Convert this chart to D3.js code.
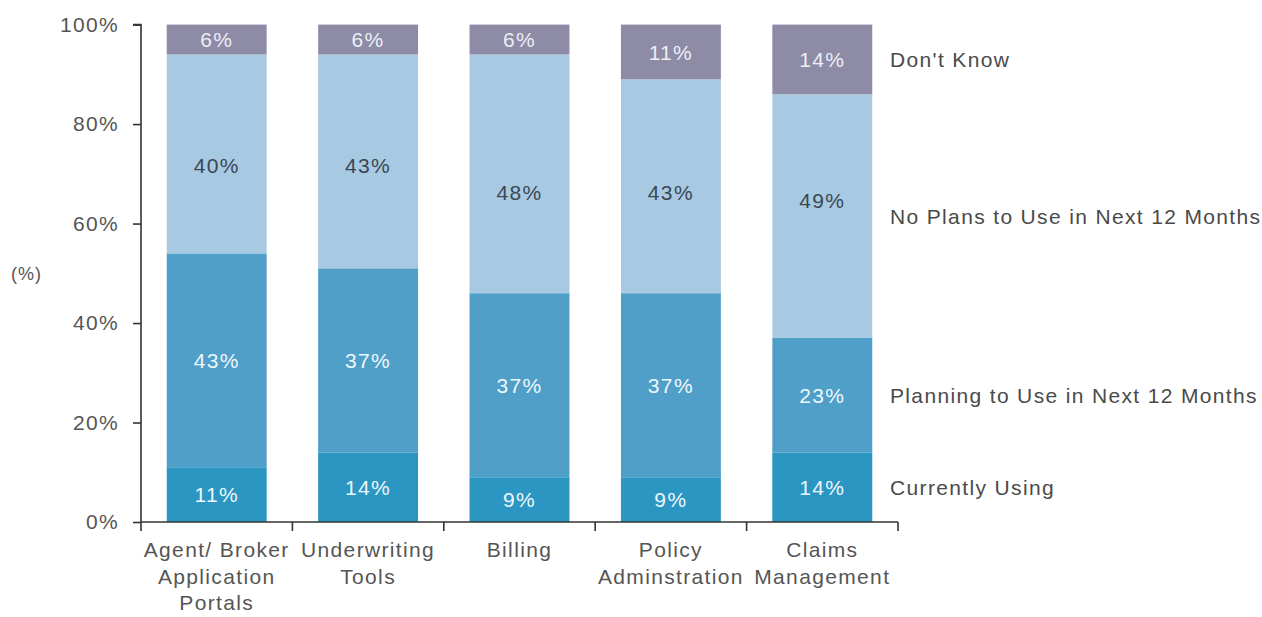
<!DOCTYPE html>
<html>
<head>
<meta charset="utf-8">
<script src="https://cdn.jsdelivr.net/npm/d3@7"></script>
<style>
  html, body { margin: 0; padding: 0; background: #ffffff; }
  svg text { font-family: "Liberation Sans", Arial, sans-serif; }
</style>
</head>
<body>
<svg id="chart" width="1262" height="617"></svg>
<script>
const categories = [
  ["Agent/ Broker", "Application", "Portals"],
  ["Underwriting", "Tools"],
  ["Billing"],
  ["Policy", "Adminstration"],
  ["Claims", "Management"]
];
const seriesNames = ["Currently Using", "Planning to Use in Next 12 Months", "No Plans to Use in Next 12 Months", "Don't Know"];
const currentlyUsing = [11, 14, 9, 9, 14];
const planningToUse = [43, 37, 37, 37, 23];
const noPlans = [40, 43, 48, 43, 49];
const dontKnow = [6, 6, 6, 11, 14];
// where the "No Plans" value labels sit, in % units on the value axis (as placed in the original)
const noPlansLabelAt = [71.6, 71.6, 66.3, 66.3, 64.7];
const yTicks = [0, 20, 40, 60, 80, 100];
const yTickLabels = ["0%", "20%", "40%", "60%", "80%", "100%"];
const yAxisTitle = "(%)";

const colors = ["#2b96c2", "#4f9fc9", "#a7c9e1", "#8d8ba6"];
const labelColors = ["#eef7fb", "#eef7fb", "#3c4756", "#eeeef4"];

const seriesValues = [currentlyUsing, planningToUse, noPlans, dontKnow];
const rows = categories.map((c, i) => {
  const r = { key: i };
  seriesNames.forEach((s, j) => r[s] = seriesValues[j][i]);
  return r;
});
const stacked = d3.stack().keys(seriesNames)(rows);

const svg = d3.select("#chart");
const x0 = 141, x1 = 898, yBottom = 522, yTop = 24.6;
const x = d3.scaleBand().domain(d3.range(categories.length)).range([x0, x1]).paddingInner(0.34).paddingOuter(0.17);
const y = d3.scaleLinear().domain([0, 100]).range([yBottom, yTop]);
const fontSize = 21, ls = "1.35px";

// bars
const layer = svg.append("g").selectAll("g").data(stacked).join("g")
  .attr("fill", (d, i) => colors[i]);
layer.selectAll("rect").data(d => d).join("rect")
  .attr("x", (d, i) => x(i))
  .attr("width", x.bandwidth())
  .attr("y", d => y(d[1]))
  .attr("height", d => y(d[0]) - y(d[1]));

// value labels
stacked.forEach((s, si) => {
  svg.append("g").selectAll("text").data(s).join("text")
    .attr("x", (d, i) => x(i) + x.bandwidth() / 2)
    .attr("y", (d, i) => si === 2 ? y(noPlansLabelAt[i]) : y((d[0] + d[1]) / 2))
    .attr("dy", "0.36em")
    .attr("text-anchor", "middle")
    .attr("font-size", fontSize)
    .attr("letter-spacing", ls)
    .attr("fill", labelColors[si])
    .text(d => (d[1] - d[0]) + "%");
});

// y axis
const yAxis = d3.axisLeft(y).tickValues(yTicks).tickFormat((d, i) => yTickLabels[i]).tickSize(8).tickPadding(14);
const gy = svg.append("g").attr("transform", `translate(${x0},0)`).call(yAxis);
gy.select(".domain").attr("stroke", "#333").attr("stroke-width", 1.6).attr("d", `M-8,${y(100)}H0V${y(0)}`);
gy.selectAll(".tick line").attr("stroke", "#333").attr("stroke-width", 1.6);
gy.selectAll(".tick text").attr("font-size", fontSize).attr("letter-spacing", ls).attr("fill", "#555").attr("font-family", "Liberation Sans, Arial, sans-serif");

// x axis line & boundary ticks
const step = x.step();
const gx = svg.append("g");
gx.append("line").attr("x1", x0).attr("x2", x1).attr("y1", y(0)).attr("y2", y(0)).attr("stroke", "#333").attr("stroke-width", 1.6);
gx.selectAll("line.tk").data(d3.range(categories.length + 1)).join("line")
  .attr("class", "tk")
  .attr("x1", i => x0 + i * step).attr("x2", i => x0 + i * step)
  .attr("y1", y(0)).attr("y2", y(0) + 9)
  .attr("stroke", "#333").attr("stroke-width", 1.6);

// category labels
const catG = svg.append("g").selectAll("text").data(categories).join("text")
  .attr("text-anchor", "middle")
  .attr("font-size", fontSize)
  .attr("letter-spacing", ls)
  .attr("fill", "#555");
catG.each(function(lines, i) {
  d3.select(this).selectAll("tspan").data(lines).join("tspan")
    .attr("x", x(i) + x.bandwidth() / 2)
    .attr("y", (d, k) => 557 + k * 26.5)
    .text(d => d);
});

// y axis title
svg.append("text").attr("x", 11).attr("y", y(50)).attr("dy", "0.36em")
  .attr("font-size", 18).attr("fill", "#555").attr("letter-spacing", "1px").text(yAxisTitle);

// series labels at the right, aligned with the last bar's segments
const last = categories.length - 1;
svg.append("g").selectAll("text").data(stacked).join("text")
  .attr("x", 890)
  .attr("y", s => y((s[last][0] + s[last][1]) / 2))
  .attr("dy", "0.36em")
  .attr("font-size", fontSize)
  .attr("letter-spacing", ls)
  .attr("fill", "#4a4a4a")
  .text(s => s.key);
</script>
</body>
</html>
